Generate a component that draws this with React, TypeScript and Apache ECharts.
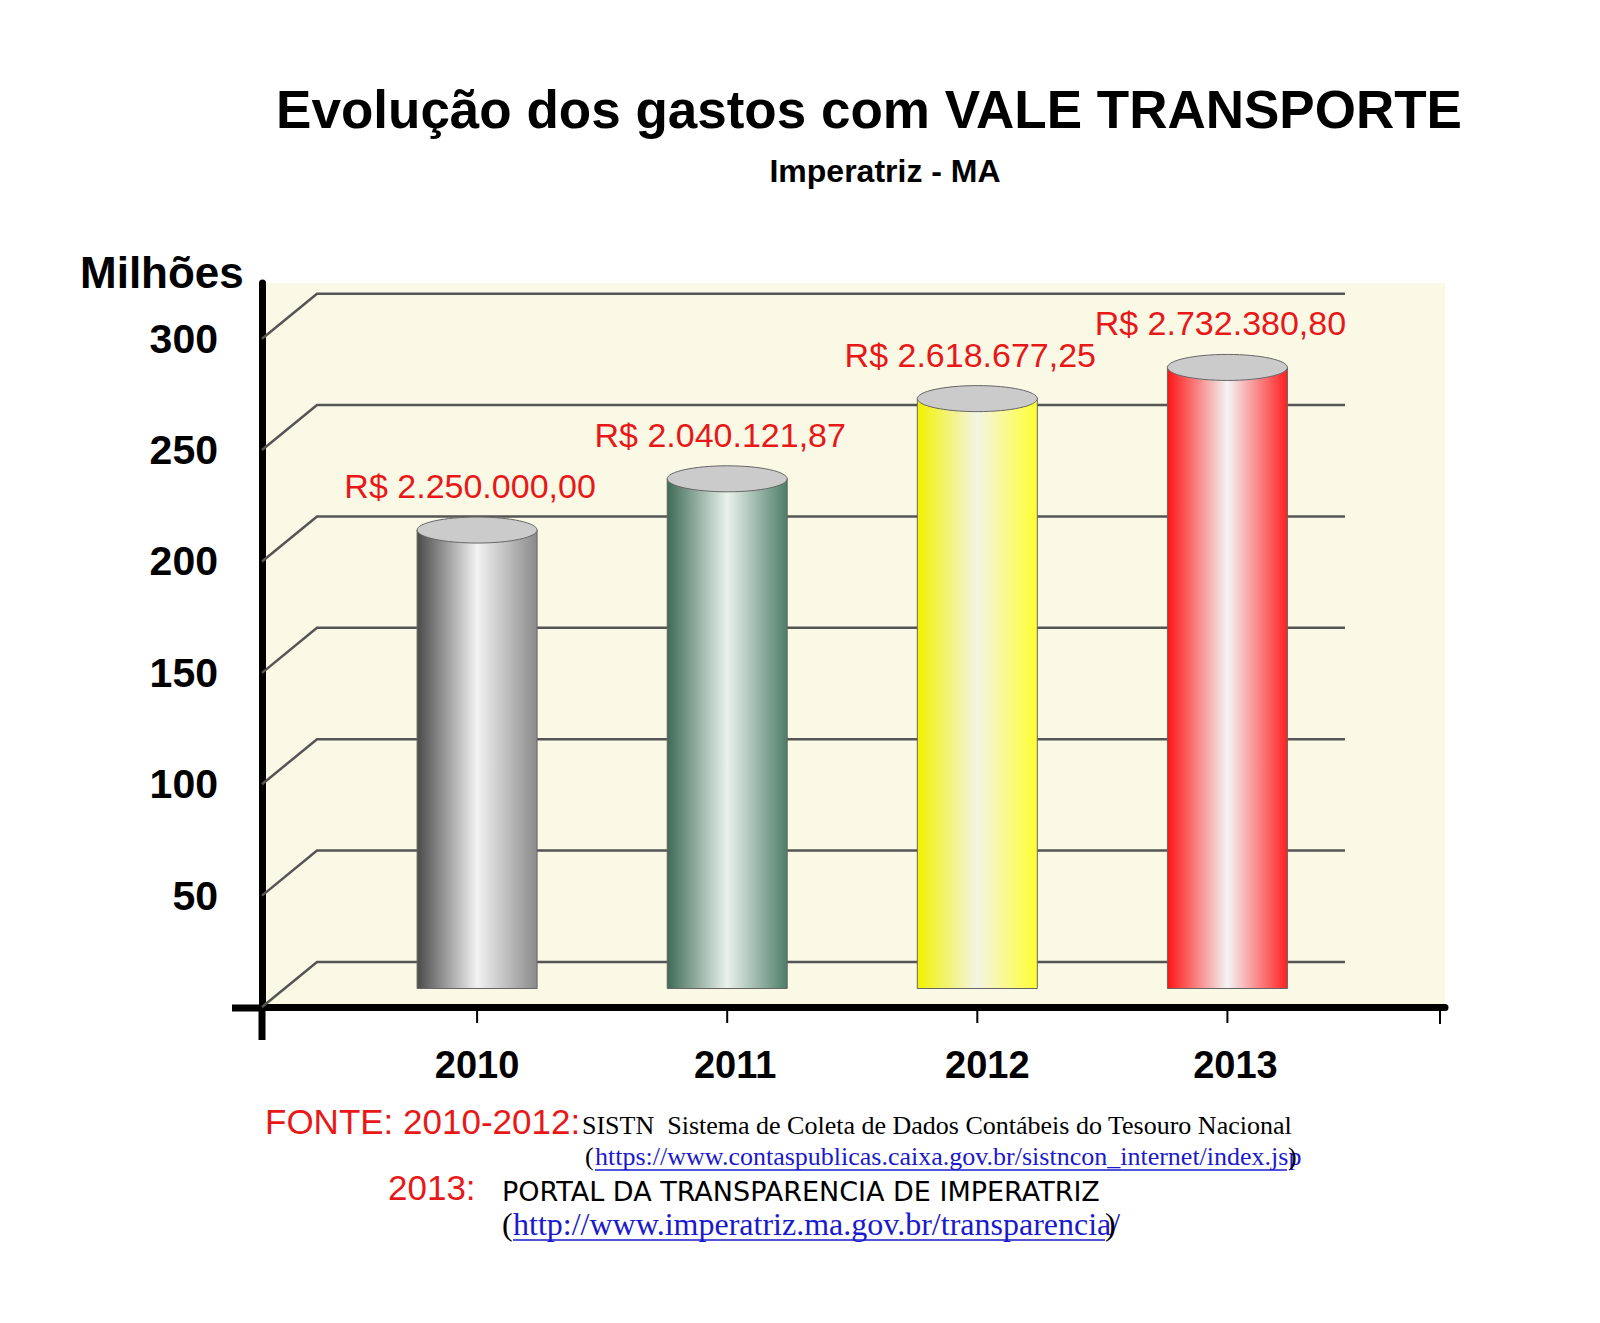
import { useEffect, useRef } from 'react';
import * as echarts from 'echarts';

const years = ['2010', '2011', '2012', '2013'];
const heights = [204, 227, 263, 277]; // bar heights on the "Milhões" axis
const valueLabels = ['R$ 2.250.000,00', 'R$ 2.040.121,87', 'R$ 2.618.677,25', 'R$ 2.732.380,80'];
const gridValues = [0, 50, 100, 150, 200, 250, 300];

const barColors = [
  ['#4a4a4a', '#f2f2f2', '#8a8a8a'],
  ['#3d6a55', '#eaf2ee', '#4d7d68'],
  ['#f2f200', '#f4f4e6', '#ffff30'],
  ['#ff1414', '#f4f4f4', '#ff2020'],
];

const DX = 55;
const DY = -45;
const ARIAL = 'Arial, "Liberation Sans", sans-serif';
const SERIF = '"Liberation Serif", "DejaVu Serif", serif';

export default function App() {
  const el = useRef<HTMLDivElement>(null);

  useEffect(() => {
    document.body.style.margin = '0';
    if (!el.current) return;
    const chart = echarts.init(el.current, undefined, { renderer: 'svg' });

    const option = {
      animation: false,
      backgroundColor: '#ffffff',
      title: [
        {
          text: 'Evolução dos gastos com VALE TRANSPORTE',
          left: 864, top: 78, textAlign: 'center',
          textStyle: { fontFamily: ARIAL, fontSize: 53, fontWeight: 'bold', color: '#000' },
        },
        {
          text: 'Imperatriz - MA',
          left: 880, top: 150, textAlign: 'center',
          textStyle: { fontFamily: ARIAL, fontSize: 32, fontWeight: 'bold', color: '#000' },
        },
      ],
      grid: {
        left: 262, right: 155, top: 283, bottom: 316,
        show: true, backgroundColor: '#f9f9e6', borderWidth: 0,
      },
      xAxis: {
        type: 'value', min: -0.86, max: 3.87,
        axisLine: { show: true, onZero: false, lineStyle: { color: '#000', width: 7 } },
        axisTick: { show: false }, axisLabel: { show: false }, splitLine: { show: false },
      },
      yAxis: {
        type: 'value', min: 0, max: 325, interval: 50,
        axisLine: { show: true, onZero: false, lineStyle: { color: '#000', width: 7 } },
        axisTick: { show: false },
        splitLine: { show: false },
        axisLabel: {
          margin: 44,
          fontFamily: ARIAL, fontSize: 41, fontWeight: 'bold', color: '#000',
          formatter: (v: number) => (v > 0 && v <= 300 ? String(v) : ''),
        },
      },
      graphic: [
        { type: 'text', left: 80, top: 250, style: { text: 'Milhões', font: `bold 44px ${ARIAL}`, fill: '#000' } },
        { type: 'line', shape: { x1: 232, y1: 1008, x2: 265, y2: 1008 }, style: { stroke: '#000', lineWidth: 7 } },
        { type: 'line', shape: { x1: 262, y1: 1005, x2: 262, y2: 1040 }, style: { stroke: '#000', lineWidth: 7 } },
        { type: 'line', shape: { x1: 1440, y1: 1008, x2: 1440, y2: 1024 }, style: { stroke: '#000', lineWidth: 2 } },
        { type: 'text', x: 265, y: 1104, style: { text: 'FONTE: 2010-2012:', font: `35px ${ARIAL}`, fill: '#e81818' } },
        { type: 'text', x: 582, y: 1112, style: { text: 'SISTN  Sistema de Coleta de Dados Contábeis do Tesouro Nacional', font: `26px ${SERIF}`, fill: '#000' } },
        { type: 'text', x: 585, y: 1143, style: { text: '(', font: `26px ${SERIF}`, fill: '#000' } },
        { type: 'text', x: 595, y: 1143, style: { text: 'https://www.contaspublicas.caixa.gov.br/sistncon_internet/index.jsp', font: `26px ${SERIF}`, fill: '#1a1acc' } },
        { type: 'line', shape: { x1: 595, y1: 1170, x2: 1287, y2: 1170 }, style: { stroke: '#1a1acc', lineWidth: 1.5 } },
        { type: 'text', x: 1288, y: 1143, style: { text: ')', font: `26px ${SERIF}`, fill: '#000' } },
        { type: 'text', x: 388, y: 1170, style: { text: '2013:', font: `35px ${ARIAL}`, fill: '#e81818' } },
        { type: 'text', x: 502, y: 1178, style: { text: 'PORTAL DA TRANSPARENCIA DE IMPERATRIZ', font: `27px "DejaVu Sans", sans-serif`, fill: '#000' } },
        { type: 'text', x: 502, y: 1208, style: { text: '(', font: `32px ${SERIF}`, fill: '#000' } },
        { type: 'text', x: 513, y: 1208, style: { text: 'http://www.imperatriz.ma.gov.br/transparencia/', font: `32px ${SERIF}`, fill: '#1a1acc' } },
        { type: 'line', shape: { x1: 513, y1: 1240, x2: 1105, y2: 1240 }, style: { stroke: '#1a1acc', lineWidth: 1.5 } },
        { type: 'text', x: 1105, y: 1208, style: { text: ')', font: `32px ${SERIF}`, fill: '#000' } },
      ],
      series: [
        {
          type: 'custom',
          data: gridValues.map((v) => [v]),
          silent: true,
          z: 1,
          renderItem: (params: any, api: any) => {
            const v = api.value(0);
            const p = api.coord([-0.86, v]);
            const endX = api.coord([3.47, v])[0];
            return {
              type: 'polyline',
              shape: { points: [[p[0], p[1]], [p[0] + DX, p[1] + DY], [endX, p[1] + DY]] },
              style: { stroke: '#555', lineWidth: 2.5, fill: null },
            };
          },
        },
        {
          type: 'custom',
          data: heights.map((h, i) => [i, h]),
          z: 3,
          renderItem: (params: any, api: any) => {
            const i = api.value(0);
            const top = api.coord([i, api.value(1)]);
            const bot = api.coord([i, 0]);
            const w = 120;
            const ry = 13;
            const x0 = top[0] - w / 2;
            const yTop = top[1] + DY / 2;
            const yBot = bot[1] + DY / 2 + 4;
            const c = barColors[i];
            const grad = new echarts.graphic.LinearGradient(0, 0, 1, 0, [
              { offset: 0, color: c[0] },
              { offset: 0.5, color: c[1] },
              { offset: 1, color: c[2] },
            ]);
            return {
              type: 'group',
              children: [
                { type: 'rect', shape: { x: x0, y: yTop, width: w, height: yBot - yTop }, style: { fill: grad, stroke: '#666', lineWidth: 1 } },
                { type: 'ellipse', shape: { cx: top[0], cy: yTop, rx: w / 2, ry }, style: { fill: '#cbcbcb', stroke: '#666', lineWidth: 1 } },
                {
                  type: 'text', x: top[0] - 7, y: yTop - 44,
                  style: { text: valueLabels[i], font: `34px ${ARIAL}`, fill: '#e81818', textAlign: 'center', textVerticalAlign: 'middle' },
                },
                {
                  type: 'text', x: top[0] + [0, 8, 10, 8][i], y: bot[1] + 58,
                  style: { text: years[i], font: `bold 38px ${ARIAL}`, fill: '#000', textAlign: 'center', textVerticalAlign: 'middle' },
                },
                { type: 'line', shape: { x1: top[0], y1: bot[1], x2: top[0], y2: bot[1] + 16 }, style: { stroke: '#000', lineWidth: 2 } },
              ],
            };
          },
        },
      ],
    };

    chart.setOption(option as any);
    return () => chart.dispose();
  }, []);

  return <div ref={el} style={{ width: 1600, height: 1323 }} />;
}
